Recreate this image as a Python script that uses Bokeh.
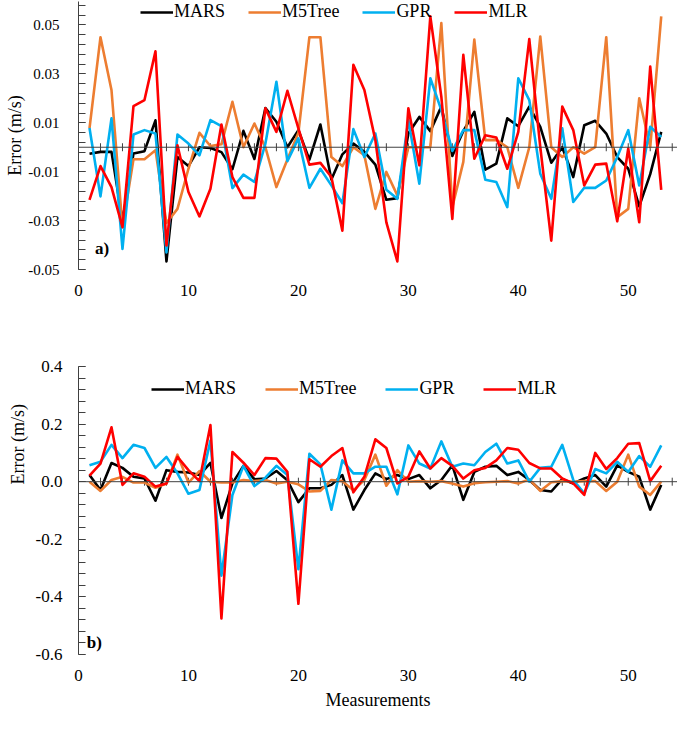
import numpy as np
from bokeh.plotting import figure
from bokeh.layouts import column
from bokeh.models import Range1d, FixedTicker, Span, Legend, LegendItem, Label, Title
from bokeh.embed import file_html
from bokeh.resources import INLINE

# ---------------- data ----------------
measurement = list(range(1, 54))
series_names = ["MARS", "M5Tree", "GPR", "MLR"]
series_colors = ["#000000", "#ED7D31", "#00B0F0", "#FF0000"]

# panel a) errors (m/s)
a_mars = [-0.0027, -0.0019, -0.0019, -0.030, -0.0026, -0.0016, 0.011, -0.0467, -0.004, -0.0077,
          0.000, -0.0003, -0.002, -0.009, 0.0067, -0.0048, 0.016, 0.0104, 0.000, 0.007,
          -0.0051, 0.0093, -0.0132, -0.0029, 0.0015, -0.0019, -0.0071, -0.0215, -0.0208, 0.0056,
          0.0124, 0.0066, 0.0166, -0.0036, 0.0066, 0.0145, -0.0092, -0.0067, 0.0118, 0.0086,
          0.0166, 0.0083, -0.0063, 0.000, -0.0122, 0.009, 0.0108, 0.0056, -0.004, -0.0088,
          -0.0242, -0.011, 0.0063]
a_m5tree = [0.0077, 0.045, 0.0234, -0.0327, -0.0049, -0.0049, -0.0012, -0.031, -0.0252, -0.0088,
            0.0059, 0.0005, 0.0012, 0.0186, 0.000, 0.0097, 0.000, -0.0163, -0.005, 0.0059,
            0.045, 0.045, -0.004, -0.0077, 0.000, -0.0033, -0.0252, -0.0101, -0.0197, 0.000,
            0.000, 0.000, 0.0508, -0.0245, -0.006, 0.044, 0.0029, 0.003, 0.000, -0.0166,
            0.000, 0.0453, 0.000, -0.004, 0.000, -0.0026, 0.000, 0.045, -0.0286, -0.0252,
            0.020, 0.000, 0.0535]
a_gpr = [0.0079, -0.0201, 0.0118, -0.0416, 0.0052, 0.007, 0.0056, -0.043, 0.0052, 0.0015,
         -0.0033, 0.0111, 0.0086, -0.0167, -0.0112, -0.0142, 0.0015, 0.0268, -0.0057, 0.0036,
         -0.0166, -0.0088, -0.0156, -0.0229, 0.0074, -0.004, 0.0056, -0.0174, -0.0211, 0.0111,
         -0.0149, 0.0282, 0.0152, -0.0015, 0.007, 0.007, -0.0133, -0.0142, -0.0245, 0.0282,
         0.0193, -0.0108, -0.0211, 0.0077, -0.0224, -0.0166, -0.0166, -0.0136, -0.004, 0.007,
         -0.0156, 0.0084, 0.0042]
a_mlr = [-0.0215, -0.0077, -0.0163, -0.0327, 0.0168, 0.0193, 0.0392, -0.0402, 0.0008, -0.0183,
         -0.0283, -0.017, 0.0093, -0.0122, -0.0207, -0.0207, 0.0159, 0.0063, 0.0231, 0.0077,
         -0.0071, -0.0064, -0.0122, -0.0341, 0.0337, 0.0234, 0.0029, -0.0307, -0.0467, 0.0159,
         -0.0074, 0.0535, 0.0207, -0.0293, 0.0378, -0.0047, 0.0049, 0.004, -0.0088, 0.0063,
         0.0442, 0.000, -0.0382, 0.0166, 0.007, -0.0156, -0.0071, -0.0067, -0.0303, -0.0005,
         -0.0307, 0.033, -0.0174]

# panel b) errors (m/s)
b_mars = [0.023, -0.029, 0.065, 0.048, 0.017, 0.011, -0.066, 0.04, 0.034, 0.032,
          0.023, 0.065, -0.126, -0.006, 0.055, 0.008, 0.011, 0.037, 0.005, -0.071,
          -0.023, -0.023, -0.011, 0.023, -0.097, -0.029, 0.029, 0.009, 0.023, 0.009,
          0.023, -0.023, 0.006, 0.057, -0.063, 0.034, 0.052, 0.055, 0.023, 0.034,
          0.006, -0.029, -0.034, 0.009, -0.006, 0.011, 0.023, -0.017, 0.057, 0.034,
          0.017, -0.097, -0.011]
b_m5tree = [0.0, -0.032, 0.006, 0.017, -0.003, -0.003, -0.021, -0.006, 0.094, -0.003,
            0.037, 0.0, -0.003, -0.003, 0.006, 0.002, 0.006, -0.006, 0.0, -0.009,
            -0.034, -0.032, 0.006, 0.002, -0.03, 0.006, 0.094, -0.014, 0.04, 0.0,
            0.002, 0.0, 0.002, -0.006, -0.017, -0.005, -0.002, 0.0, 0.002, -0.006,
            0.008, -0.032, -0.002, 0.002, 0.0, 0.002, 0.002, -0.032, 0.0, 0.094,
            -0.017, -0.046, 0.0]
b_gpr = [0.057, 0.069, 0.128, 0.082, 0.128, 0.117, 0.048, 0.086, 0.029, -0.042,
         -0.029, 0.143, -0.326, -0.046, 0.055, -0.015, 0.014, 0.055, 0.023, -0.304,
         0.097, 0.06, -0.097, 0.074, 0.029, 0.029, 0.052, 0.052, -0.044, 0.126,
         0.063, 0.046, 0.14, 0.052, 0.063, 0.057, 0.103, 0.132, 0.063, 0.074,
         0.0, 0.048, 0.052, 0.128, 0.006, -0.04, 0.044, 0.029, 0.069, 0.034,
         0.089, 0.052, 0.126]
b_mlr = [0.021, 0.063, 0.189, -0.011, 0.029, 0.017, -0.017, -0.006, 0.086, 0.04,
         0.002, 0.197, -0.475, 0.103, 0.066, 0.023, 0.082, 0.08, 0.034, -0.424,
         0.078, 0.052, 0.089, 0.117, -0.037, 0.017, 0.147, 0.117, -0.006, 0.017,
         0.105, 0.046, 0.082, 0.055, 0.011, 0.04, 0.048, 0.074, 0.117, 0.111,
         0.065, 0.046, 0.046, 0.011, -0.006, -0.046, 0.1, 0.044, 0.082, 0.132,
         0.134, 0.002, 0.055]

# axis ticks / labels
x_tick_values = [0, 10, 20, 30, 40, 50]
zero_line_ticks = list(range(2, 55, 2))
a_y_ticks = [-0.05, -0.03, -0.01, 0.01, 0.03, 0.05]
a_y_labels = ["-0.05", "-0.03", "-0.01", "0.01", "0.03", "0.05"]
a_y_minor = [round(-0.05 + 0.004 * k, 4) for k in range(28)]
b_y_ticks = [-0.6, -0.4, -0.2, 0.0, 0.2, 0.4]
b_y_labels = ["-0.6", "-0.4", "-0.2", "0.0", "0.2", "0.4"]
b_y_minor = [round(-0.6 + 0.04 * k, 3) for k in range(26)]

FONT = "Liberation Serif"
AXIS_COLOR = "#404040"
W = 677


def make_panel(height, y_range, min_top, min_bottom, yticks, ylabels, yminor,
               ylabel_standoff, xlabel_standoff, ytick_font):
    p = figure(width=W, height=height, x_range=Range1d(0, 54.48), y_range=Range1d(*y_range),
               output_backend="svg", toolbar_location=None, min_border=0,
               min_border_left=75, min_border_right=0,
               min_border_top=min_top, min_border_bottom=min_bottom)
    p.outline_line_color = None
    p.xgrid.visible = False
    p.ygrid.visible = False
    p.background_fill_color = "white"
    p.border_fill_color = "white"

    ya = p.yaxis[0]
    ya.ticker = FixedTicker(ticks=yticks, minor_ticks=yminor)
    ya.major_label_overrides = dict(zip(yticks, ylabels))
    ya.axis_line_color = AXIS_COLOR
    ya.major_tick_line_color = AXIS_COLOR
    ya.minor_tick_line_color = AXIS_COLOR
    ya.major_tick_in = 7
    ya.major_tick_out = 0
    ya.minor_tick_in = 7
    ya.minor_tick_out = 0
    ya.major_label_standoff = ylabel_standoff
    ya.major_label_text_font = FONT
    ya.major_label_text_font_size = ytick_font
    ya.major_label_text_color = "black"
    ya.axis_label_text_font = FONT
    ya.axis_label_text_font_size = "18px"
    ya.axis_label_text_font_style = "normal"
    ya.axis_label_text_color = "black"

    xa = p.xaxis[0]
    xa.ticker = FixedTicker(ticks=x_tick_values, minor_ticks=[])
    xa.axis_line_color = None
    xa.major_tick_line_color = None
    xa.minor_tick_line_color = None
    xa.major_tick_in = 0
    xa.major_tick_out = 0
    xa.minor_tick_out = 0
    xa.major_label_standoff = xlabel_standoff
    xa.major_label_text_font = FONT
    xa.major_label_text_font_size = "17px"
    xa.major_label_text_color = "black"
    xa.axis_label_text_font = FONT
    xa.axis_label_text_font_size = "18px"
    xa.axis_label_text_font_style = "normal"
    xa.axis_label_text_color = "black"

    p.add_layout(Span(location=0, dimension="width", line_color=AXIS_COLOR, line_width=1))
    p.scatter(x=zero_line_ticks, y=[0] * len(zero_line_ticks), marker="dash",
              angle=np.pi / 2, size=8, line_color=AXIS_COLOR, line_width=1)
    return p


def add_series(p, data, legend_loc, spacing):
    items = []
    for name, color, ys in zip(series_names, series_colors, data):
        r = p.line(measurement, ys, line_color=color, line_width=2.6, line_join="round")
        items.append(LegendItem(label=name, renderers=[r]))
    leg = Legend(items=items, orientation="horizontal", location=legend_loc,
                 border_line_color=None, background_fill_alpha=0, padding=0, margin=0,
                 spacing=spacing, glyph_width=33, glyph_height=20, label_height=20,
                 label_standoff=1, label_text_font=FONT, label_text_font_size="18px",
                 label_text_color="black")
    p.add_layout(leg)


# ---------- panel a ----------
pa = make_panel(335, (-0.05, 0.0596), 1, 66, a_y_ticks, a_y_labels, a_y_minor, 19, 15, "15px")
pa.yaxis[0].axis_label = "Error (m/s)"
pa.yaxis[0].axis_label_standoff = 0
add_series(pa, [a_mars, a_m5tree, a_gpr, a_mlr], (62, 247), 23)
pa.add_layout(Label(x=1.5, y=-0.0415, text="a)", text_align="left", text_baseline="middle",
                    text_font=FONT, text_font_size="17px", text_font_style="bold",
                    text_color="black"))

# ---------- panel b ----------
pb = make_panel(380, (-0.6, 0.4), 31, 61, b_y_ticks, b_y_labels, b_y_minor, 16, 15, "17px")
pb.xaxis[0].axis_label = "Measurements"
pb.xaxis[0].axis_label_standoff = 6
pb.add_layout(Title(text="Error (m/s)", align="left", offset=170, standoff=10,
                    text_font=FONT, text_font_size="18px", text_font_style="normal",
                    text_color="black"), "left")
add_series(pb, [b_mars, b_m5tree, b_gpr, b_mlr], (73, 255), 29)
pb.add_layout(Label(x=0.75, y=-0.56, text="b)", text_align="left", text_baseline="middle",
                    text_font=FONT, text_font_size="17px", text_font_style="bold",
                    text_color="black"))

layout = column(pa, pb, spacing=0)
open("out.html", "w").write(file_html(layout, INLINE))
